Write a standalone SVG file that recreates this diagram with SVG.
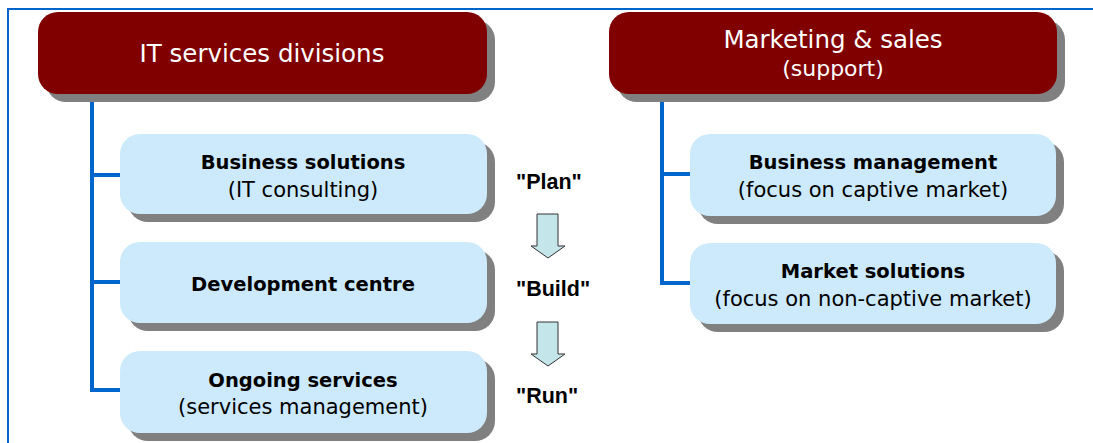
<svg xmlns="http://www.w3.org/2000/svg" width="1093" height="443" viewBox="0 0 1093 443">
<style>
.sh{fill:#808080}
.hd{fill:#800000}
.bx{fill:#cceafb}
.th{font-family:"DejaVu Sans",Verdana,sans-serif;font-size:24.5px;fill:#fff;text-anchor:middle}
.tb{font-family:"DejaVu Sans",Verdana,sans-serif;font-size:21px;fill:#000;text-anchor:middle}
.b{font-weight:bold;font-size:19.5px}
.lbl{font-family:"Liberation Sans",Arial,sans-serif;font-size:21.5px;font-weight:bold;fill:#000}
.con{stroke:#0066cc;stroke-width:4;fill:none}
.arr{fill:#c4e6ea;stroke:#333;stroke-width:1}
</style>
<rect width="1093" height="443" fill="#fff"/>
<path d="M8,443 V9 H1093" fill="none" stroke="#0066cc" stroke-width="2"/>
<g id="connectors">
<path class="con" d="M92,93 V390 H122 M92,175 H122 M92,282 H122"/>
<path class="con" d="M662,93 V283 H692 M662,174 H692"/>
</g>
<g id="it">
<rect class="sh" x="46" y="20" width="449" height="82" rx="20"/>
<rect class="hd" x="38" y="12" width="449" height="82" rx="20"/>
<text class="th" x="262" y="62">IT services divisions</text>
</g>
<g id="mkt">
<rect class="sh" x="617" y="20" width="448" height="82" rx="20"/>
<rect class="hd" x="609" y="12" width="448" height="82" rx="20"/>
<text class="th" x="833" y="48">Marketing &amp; sales</text>
<text class="th" x="833" y="76" style="font-size:22px">(support)</text>
</g>
<g id="bs">
<rect class="sh" x="128" y="142" width="367" height="80" rx="20"/>
<rect class="bx" x="120" y="134" width="367" height="80" rx="20"/>
<text class="tb b" x="303" y="169">Business solutions</text>
<text class="tb" x="303" y="197">(IT consulting)</text>
</g>
<g id="dc">
<rect class="sh" x="128" y="250" width="367" height="81" rx="20"/>
<rect class="bx" x="120" y="242" width="367" height="81" rx="20"/>
<text class="tb b" x="303" y="291">Development centre</text>
</g>
<g id="os">
<rect class="sh" x="128" y="359" width="367" height="82" rx="20"/>
<rect class="bx" x="120" y="351" width="367" height="82" rx="20"/>
<text class="tb b" x="303" y="387">Ongoing services</text>
<text class="tb" x="303" y="414">(services management)</text>
</g>
<g id="bm">
<rect class="sh" x="698" y="142" width="366" height="82" rx="20"/>
<rect class="bx" x="690" y="134" width="366" height="82" rx="20"/>
<text class="tb b" x="873" y="169">Business management</text>
<text class="tb" x="873" y="197">(focus on captive market)</text>
</g>
<g id="ms">
<rect class="sh" x="698" y="251" width="366" height="81" rx="20"/>
<rect class="bx" x="690" y="243" width="366" height="81" rx="20"/>
<text class="tb b" x="873" y="278">Market solutions</text>
<text class="tb" x="873" y="306">(focus on non-captive market)</text>
</g>
<g id="phases">
<text class="lbl" x="516" y="189">"Plan"</text>
<path class="arr" d="M537,214 H558 V246 H565 L548,258 L531,246 H537 Z"/>
<text class="lbl" x="516" y="296">"Build"</text>
<path class="arr" d="M537,322 H558 V354 H565 L548,366 L531,354 H537 Z"/>
<text class="lbl" x="516" y="403">"Run"</text>
</g>
</svg>
